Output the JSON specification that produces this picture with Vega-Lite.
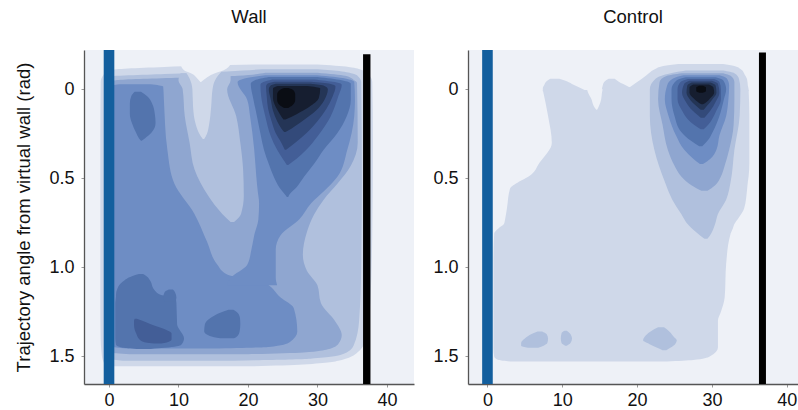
{
  "$schema": "https://vega.github.io/schema/vega-lite/v6.json",
  "padding": {"left": 14, "top": 8, "right": 0, "bottom": 0},
  "background": "white",
  "config": {
    "view": {"fill": "#eef1f7", "stroke": null},
    "font": "Liberation Sans",
    "axis": {
      "grid": false, "domainColor": "#555555", "domainWidth": 1.3,
      "tickColor": "#9a9a9a", "tickSize": 3,
      "labelFont": "Liberation Sans", "labelFontSize": 18, "labelColor": "#111111",
      "titleFont": "Liberation Sans", "titleFontSize": 18.5, "titleFontWeight": "normal", "titleColor": "#111111"
    },
    "title": {"font": "Liberation Sans", "fontSize": 18.5, "fontWeight": "normal", "color": "#111111", "offset": 18}
  },
  "datasets": {
    "wall": [
      {"id": "w1", "lv": 1, "ang": -0.138, "lo": 21, "hi": 30},
      {"id": "w1", "lv": 1, "ang": -0.125, "lo": 8, "hi": 34.5},
      {"id": "w1", "lv": 1, "ang": -0.108, "lo": 0.3, "hi": 36.4},
      {"id": "w1", "lv": 1, "ang": -0.08, "lo": -0.8, "hi": 37.4},
      {"id": "w1", "lv": 1, "ang": -0.04, "lo": -1.2, "hi": 37.9},
      {"id": "w1", "lv": 1, "ang": 0.3, "lo": -1.25, "hi": 38.0},
      {"id": "w1", "lv": 1, "ang": 0.8, "lo": -1.25, "hi": 37.9},
      {"id": "w1", "lv": 1, "ang": 1.2, "lo": -1.25, "hi": 37.6},
      {"id": "w1", "lv": 1, "ang": 1.4, "lo": -1.2, "hi": 37.0},
      {"id": "w1", "lv": 1, "ang": 1.47, "lo": -1.1, "hi": 36.0},
      {"id": "w1", "lv": 1, "ang": 1.52, "lo": -0.9, "hi": 33.5},
      {"id": "w1", "lv": 1, "ang": 1.545, "lo": -0.5, "hi": 28},
      {"id": "w1", "lv": 1, "ang": 1.556, "lo": 1, "hi": 20},

      {"id": "w2", "lv": 2, "ang": -0.112, "lo": 22, "hi": 30},
      {"id": "w2", "lv": 2, "ang": -0.1, "lo": 17, "hi": 33.5},
      {"id": "w2", "lv": 2, "ang": -0.085, "lo": 8, "hi": 35.3},
      {"id": "w2", "lv": 2, "ang": -0.07, "lo": -0.3, "hi": 35.9},
      {"id": "w2", "lv": 2, "ang": -0.04, "lo": -0.6, "hi": 36.3},
      {"id": "w2", "lv": 2, "ang": 0.5, "lo": -0.6, "hi": 36.4},
      {"id": "w2", "lv": 2, "ang": 1.0, "lo": -0.6, "hi": 36.3},
      {"id": "w2", "lv": 2, "ang": 1.3, "lo": -0.6, "hi": 36.0},
      {"id": "w2", "lv": 2, "ang": 1.44, "lo": -0.6, "hi": 35.2},
      {"id": "w2", "lv": 2, "ang": 1.49, "lo": -0.5, "hi": 33.5},
      {"id": "w2", "lv": 2, "ang": 1.513, "lo": 0, "hi": 29},
      {"id": "w2", "lv": 2, "ang": 1.524, "lo": 2, "hi": 18},

      {"id": "w3", "lv": 3, "ang": -0.092, "lo": 22.5, "hi": 30},
      {"id": "w3", "lv": 3, "ang": -0.075, "lo": 18.5, "hi": 34},
      {"id": "w3", "lv": 3, "ang": -0.05, "lo": 1, "hi": 35.3},
      {"id": "w3", "lv": 3, "ang": -0.035, "lo": -0.3, "hi": 35.7},
      {"id": "w3", "lv": 3, "ang": 0.3, "lo": -0.3, "hi": 35.8},
      {"id": "w3", "lv": 3, "ang": 0.43, "lo": -0.3, "hi": 34.8},
      {"id": "w3", "lv": 3, "ang": 0.53, "lo": -0.3, "hi": 32.9},
      {"id": "w3", "lv": 3, "ang": 0.62, "lo": -0.3, "hi": 30.9},
      {"id": "w3", "lv": 3, "ang": 0.705, "lo": -0.3, "hi": 29.5},
      {"id": "w3", "lv": 3, "ang": 0.8, "lo": -0.3, "hi": 28.5},
      {"id": "w3", "lv": 3, "ang": 0.93, "lo": -0.3, "hi": 27.9},
      {"id": "w3", "lv": 3, "ang": 1.02, "lo": -0.3, "hi": 28.5},
      {"id": "w3", "lv": 3, "ang": 1.1, "lo": -0.3, "hi": 30.0},
      {"id": "w3", "lv": 3, "ang": 1.2, "lo": -0.3, "hi": 30.5},
      {"id": "w3", "lv": 3, "ang": 1.3, "lo": -0.3, "hi": 32.5},
      {"id": "w3", "lv": 3, "ang": 1.38, "lo": -0.3, "hi": 33.5},
      {"id": "w3", "lv": 3, "ang": 1.43, "lo": -0.3, "hi": 33.0},
      {"id": "w3", "lv": 3, "ang": 1.46, "lo": -0.3, "hi": 31.5},
      {"id": "w3", "lv": 3, "ang": 1.478, "lo": 0, "hi": 28},
      {"id": "w3", "lv": 3, "ang": 1.488, "lo": 3, "hi": 20},

      {"id": "w2m", "lv": 2, "ang": -0.09, "lo": 10.3, "hi": 17.5},
      {"id": "w2m", "lv": 2, "ang": -0.05, "lo": 10.0, "hi": 17.5},
      {"id": "w2m", "lv": 2, "ang": 0.0, "lo": 10.6, "hi": 17.0},
      {"id": "w2m", "lv": 2, "ang": 0.15, "lo": 10.9, "hi": 18.3},
      {"id": "w2m", "lv": 2, "ang": 0.3, "lo": 11.6, "hi": 18.9},
      {"id": "w2m", "lv": 2, "ang": 0.45, "lo": 12.3, "hi": 19.3},
      {"id": "w2m", "lv": 2, "ang": 0.6, "lo": 14.3, "hi": 19.4},
      {"id": "w2m", "lv": 2, "ang": 0.7, "lo": 16.3, "hi": 19.0},
      {"id": "w2m", "lv": 2, "ang": 0.745, "lo": 17.5, "hi": 18.0},

      {"id": "w1f", "lv": 1, "ang": -0.1, "lo": 11.0, "hi": 16.2},
      {"id": "w1f", "lv": 1, "ang": -0.06, "lo": 11.6, "hi": 15.4},
      {"id": "w1f", "lv": 1, "ang": 0.0, "lo": 12.0, "hi": 14.9},
      {"id": "w1f", "lv": 1, "ang": 0.1, "lo": 12.1, "hi": 14.7},
      {"id": "w1f", "lv": 1, "ang": 0.2, "lo": 12.5, "hi": 14.4},
      {"id": "w1f", "lv": 1, "ang": 0.25, "lo": 13.0, "hi": 14.1},
      {"id": "w1f", "lv": 1, "ang": 0.28, "lo": 13.5, "hi": 13.7},

      {"id": "w0n", "lv": 0, "ang": -0.14, "lo": 10.3, "hi": 17.5},
      {"id": "w0n", "lv": 0, "ang": -0.106, "lo": 10.8, "hi": 16.5},
      {"id": "w0n", "lv": 0, "ang": -0.085, "lo": 12.0, "hi": 15.0},
      {"id": "w0n", "lv": 0, "ang": -0.06, "lo": 12.7, "hi": 13.9},
      {"id": "w0n", "lv": 0, "ang": -0.04, "lo": 13.15, "hi": 13.25},

      {"id": "w4a", "lv": 4, "ang": -0.028, "lo": 1.5, "hi": 6},
      {"id": "w4a", "lv": 4, "ang": -0.015, "lo": 0, "hi": 7.8},
      {"id": "w4a", "lv": 4, "ang": 0.06, "lo": 0, "hi": 7.9},
      {"id": "w4a", "lv": 4, "ang": 0.34, "lo": 0, "hi": 8.4},
      {"id": "w4a", "lv": 4, "ang": 0.53, "lo": 0, "hi": 9.4},
      {"id": "w4a", "lv": 4, "ang": 0.7, "lo": 0, "hi": 12.3},
      {"id": "w4a", "lv": 4, "ang": 0.855, "lo": 0, "hi": 14.1},
      {"id": "w4a", "lv": 4, "ang": 0.985, "lo": 0, "hi": 15.6},
      {"id": "w4a", "lv": 4, "ang": 1.04, "lo": 0, "hi": 17.0},
      {"id": "w4a", "lv": 4, "ang": 1.08, "lo": 0, "hi": 22},
      {"id": "w4a", "lv": 4, "ang": 1.17, "lo": 0, "hi": 24.7},
      {"id": "w4a", "lv": 4, "ang": 1.23, "lo": 0, "hi": 26.6},
      {"id": "w4a", "lv": 4, "ang": 1.36, "lo": 0, "hi": 27.1},
      {"id": "w4a", "lv": 4, "ang": 1.42, "lo": 0, "hi": 26},
      {"id": "w4a", "lv": 4, "ang": 1.447, "lo": 0.5, "hi": 23},
      {"id": "w4a", "lv": 4, "ang": 1.456, "lo": 3, "hi": 15},

      {"id": "w4b", "lv": 4, "ang": -0.078, "lo": 22.5, "hi": 30},
      {"id": "w4b", "lv": 4, "ang": -0.06, "lo": 19.5, "hi": 34},
      {"id": "w4b", "lv": 4, "ang": -0.04, "lo": 18.5, "hi": 35.3},
      {"id": "w4b", "lv": 4, "ang": 0.06, "lo": 19.9, "hi": 35.4},
      {"id": "w4b", "lv": 4, "ang": 0.15, "lo": 20.3, "hi": 35.3},
      {"id": "w4b", "lv": 4, "ang": 0.34, "lo": 20.9, "hi": 34.3},
      {"id": "w4b", "lv": 4, "ang": 0.49, "lo": 21.2, "hi": 32.9},
      {"id": "w4b", "lv": 4, "ang": 0.57, "lo": 21.4, "hi": 31.0},
      {"id": "w4b", "lv": 4, "ang": 0.64, "lo": 21.6, "hi": 29.1},
      {"id": "w4b", "lv": 4, "ang": 0.73, "lo": 21.5, "hi": 27.4},
      {"id": "w4b", "lv": 4, "ang": 0.82, "lo": 20.9, "hi": 24.7},
      {"id": "w4b", "lv": 4, "ang": 0.9, "lo": 20.5, "hi": 24.0},
      {"id": "w4b", "lv": 4, "ang": 0.985, "lo": 19.9, "hi": 24.0},
      {"id": "w4b", "lv": 4, "ang": 1.06, "lo": 17.5, "hi": 24.0},
      {"id": "w4b", "lv": 4, "ang": 1.1, "lo": 17.0, "hi": 24.2},

      {"id": "w5a", "lv": 5, "ang": 0.015, "lo": 3.7, "hi": 4.6},
      {"id": "w5a", "lv": 5, "ang": 0.04, "lo": 3.2, "hi": 5.5},
      {"id": "w5a", "lv": 5, "ang": 0.08, "lo": 3.0, "hi": 6.2},
      {"id": "w5a", "lv": 5, "ang": 0.14, "lo": 3.0, "hi": 6.6},
      {"id": "w5a", "lv": 5, "ang": 0.19, "lo": 3.3, "hi": 6.7},
      {"id": "w5a", "lv": 5, "ang": 0.245, "lo": 3.9, "hi": 6.1},
      {"id": "w5a", "lv": 5, "ang": 0.275, "lo": 4.3, "hi": 5.2},
      {"id": "w5a", "lv": 5, "ang": 0.29, "lo": 4.6, "hi": 4.7},

      {"id": "w5b", "lv": 5, "ang": -0.068, "lo": 23, "hi": 30},
      {"id": "w5b", "lv": 5, "ang": -0.05, "lo": 21, "hi": 33.5},
      {"id": "w5b", "lv": 5, "ang": -0.03, "lo": 20.4, "hi": 34.8},
      {"id": "w5b", "lv": 5, "ang": 0.06, "lo": 20.8, "hi": 34.8},
      {"id": "w5b", "lv": 5, "ang": 0.153, "lo": 21.3, "hi": 34.2},
      {"id": "w5b", "lv": 5, "ang": 0.25, "lo": 21.8, "hi": 32.8},
      {"id": "w5b", "lv": 5, "ang": 0.34, "lo": 22.3, "hi": 30.9},
      {"id": "w5b", "lv": 5, "ang": 0.42, "lo": 23.0, "hi": 29.5},
      {"id": "w5b", "lv": 5, "ang": 0.49, "lo": 23.7, "hi": 28.1},
      {"id": "w5b", "lv": 5, "ang": 0.55, "lo": 24.5, "hi": 27.0},
      {"id": "w5b", "lv": 5, "ang": 0.59, "lo": 25.3, "hi": 26.0},
      {"id": "w5b", "lv": 5, "ang": 0.605, "lo": 25.6, "hi": 25.8},

      {"id": "w5c1", "lv": 5, "ang": 1.038, "lo": 4.3, "hi": 4.9},
      {"id": "w5c1", "lv": 5, "ang": 1.05, "lo": 3.3, "hi": 5.4},
      {"id": "w5c1", "lv": 5, "ang": 1.08, "lo": 2.0, "hi": 6.0},
      {"id": "w5c1", "lv": 5, "ang": 1.12, "lo": 1.2, "hi": 6.4},
      {"id": "w5c1", "lv": 5, "ang": 1.155, "lo": 1.0, "hi": 7.5},
      {"id": "w5c1", "lv": 5, "ang": 1.165, "lo": 1.0, "hi": 9.5},
      {"id": "w5c1", "lv": 5, "ang": 1.2, "lo": 0.9, "hi": 9.7},
      {"id": "w5c1", "lv": 5, "ang": 1.32, "lo": 0.9, "hi": 9.8},
      {"id": "w5c1", "lv": 5, "ang": 1.4, "lo": 0.9, "hi": 10.8},
      {"id": "w5c1", "lv": 5, "ang": 1.435, "lo": 1.0, "hi": 10.4},
      {"id": "w5c1", "lv": 5, "ang": 1.452, "lo": 2.0, "hi": 8.0},
      {"id": "w5c1", "lv": 5, "ang": 1.458, "lo": 4.0, "hi": 6.0},

      {"id": "w5c2", "lv": 5, "ang": 1.125, "lo": 8.6, "hi": 9.2},
      {"id": "w5c2", "lv": 5, "ang": 1.14, "lo": 8.0, "hi": 9.5},
      {"id": "w5c2", "lv": 5, "ang": 1.17, "lo": 7.8, "hi": 9.7},
      {"id": "w5c2", "lv": 5, "ang": 1.19, "lo": 8.0, "hi": 9.6},

      {"id": "w5d", "lv": 5, "ang": 1.238, "lo": 17.2, "hi": 17.9},
      {"id": "w5d", "lv": 5, "ang": 1.255, "lo": 16.0, "hi": 18.5},
      {"id": "w5d", "lv": 5, "ang": 1.285, "lo": 14.6, "hi": 18.85},
      {"id": "w5d", "lv": 5, "ang": 1.32, "lo": 13.8, "hi": 18.9},
      {"id": "w5d", "lv": 5, "ang": 1.36, "lo": 13.7, "hi": 18.8},
      {"id": "w5d", "lv": 5, "ang": 1.385, "lo": 14.5, "hi": 18.5},
      {"id": "w5d", "lv": 5, "ang": 1.398, "lo": 16.0, "hi": 18.0},

      {"id": "w6a", "lv": 6, "ang": 1.289, "lo": 3.7, "hi": 4.0},
      {"id": "w6a", "lv": 6, "ang": 1.3, "lo": 3.6, "hi": 4.8},
      {"id": "w6a", "lv": 6, "ang": 1.322, "lo": 3.6, "hi": 6.2},
      {"id": "w6a", "lv": 6, "ang": 1.35, "lo": 3.7, "hi": 8.2},
      {"id": "w6a", "lv": 6, "ang": 1.37, "lo": 3.9, "hi": 9.0},
      {"id": "w6a", "lv": 6, "ang": 1.405, "lo": 4.4, "hi": 9.0},
      {"id": "w6a", "lv": 6, "ang": 1.422, "lo": 5.3, "hi": 8.3},
      {"id": "w6a", "lv": 6, "ang": 1.428, "lo": 6.5, "hi": 7.5},

      {"id": "w6b", "lv": 6, "ang": -0.055, "lo": 23.5, "hi": 29.5},
      {"id": "w6b", "lv": 6, "ang": -0.04, "lo": 22.2, "hi": 32.5},
      {"id": "w6b", "lv": 6, "ang": -0.025, "lo": 21.8, "hi": 33.5},
      {"id": "w6b", "lv": 6, "ang": 0.04, "lo": 21.9, "hi": 33.0},
      {"id": "w6b", "lv": 6, "ang": 0.153, "lo": 22.5, "hi": 31.9},
      {"id": "w6b", "lv": 6, "ang": 0.265, "lo": 23.3, "hi": 30.0},
      {"id": "w6b", "lv": 6, "ang": 0.34, "lo": 24.2, "hi": 28.4},
      {"id": "w6b", "lv": 6, "ang": 0.39, "lo": 25.0, "hi": 27.0},
      {"id": "w6b", "lv": 6, "ang": 0.425, "lo": 25.6, "hi": 25.8},

      {"id": "w7", "lv": 7, "ang": -0.042, "lo": 23.8, "hi": 29},
      {"id": "w7", "lv": 7, "ang": -0.03, "lo": 22.8, "hi": 31.8},
      {"id": "w7", "lv": 7, "ang": -0.015, "lo": 22.6, "hi": 32.6},
      {"id": "w7", "lv": 7, "ang": 0.04, "lo": 22.7, "hi": 32.2},
      {"id": "w7", "lv": 7, "ang": 0.11, "lo": 22.9, "hi": 31.3},
      {"id": "w7", "lv": 7, "ang": 0.18, "lo": 23.4, "hi": 30.0},
      {"id": "w7", "lv": 7, "ang": 0.247, "lo": 24.0, "hi": 28.4},
      {"id": "w7", "lv": 7, "ang": 0.3, "lo": 24.8, "hi": 26.8},
      {"id": "w7", "lv": 7, "ang": 0.34, "lo": 25.3, "hi": 25.5},

      {"id": "w8", "lv": 8, "ang": -0.03, "lo": 24.0, "hi": 29.0},
      {"id": "w8", "lv": 8, "ang": -0.018, "lo": 23.2, "hi": 31.0},
      {"id": "w8", "lv": 8, "ang": 0.0, "lo": 23.0, "hi": 31.5},
      {"id": "w8", "lv": 8, "ang": 0.06, "lo": 23.3, "hi": 31.0},
      {"id": "w8", "lv": 8, "ang": 0.12, "lo": 23.6, "hi": 29.8},
      {"id": "w8", "lv": 8, "ang": 0.18, "lo": 24.2, "hi": 27.8},
      {"id": "w8", "lv": 8, "ang": 0.22, "lo": 24.8, "hi": 26.3},
      {"id": "w8", "lv": 8, "ang": 0.24, "lo": 25.2, "hi": 25.4},

      {"id": "w9", "lv": 9, "ang": -0.018, "lo": 24.3, "hi": 28.5},
      {"id": "w9", "lv": 9, "ang": -0.005, "lo": 23.6, "hi": 30.4},
      {"id": "w9", "lv": 9, "ang": 0.05, "lo": 23.6, "hi": 30.2},
      {"id": "w9", "lv": 9, "ang": 0.1, "lo": 24.0, "hi": 28.8},
      {"id": "w9", "lv": 9, "ang": 0.14, "lo": 24.6, "hi": 27.0},
      {"id": "w9", "lv": 9, "ang": 0.17, "lo": 25.1, "hi": 25.4},

      {"id": "w10", "lv": 10, "ang": -0.006, "lo": 25.2, "hi": 25.8},
      {"id": "w10", "lv": 10, "ang": 0.005, "lo": 24.6, "hi": 26.5},
      {"id": "w10", "lv": 10, "ang": 0.03, "lo": 24.2, "hi": 26.8},
      {"id": "w10", "lv": 10, "ang": 0.06, "lo": 24.2, "hi": 26.8},
      {"id": "w10", "lv": 10, "ang": 0.09, "lo": 24.6, "hi": 26.4},
      {"id": "w10", "lv": 10, "ang": 0.105, "lo": 25.2, "hi": 25.8}
    ],
    "control": [
      {"id": "c1a", "lv": 1, "ang": 0.005, "lo": 7.4, "hi": 34.9},
      {"id": "c1a", "lv": 1, "ang": 0.15, "lo": 8.1, "hi": 35.0},
      {"id": "c1a", "lv": 1, "ang": 0.3, "lo": 8.6, "hi": 35.0},
      {"id": "c1a", "lv": 1, "ang": 0.41, "lo": 7.0, "hi": 35.0},
      {"id": "c1a", "lv": 1, "ang": 0.49, "lo": 5.5, "hi": 34.9},
      {"id": "c1a", "lv": 1, "ang": 0.52, "lo": 4.2, "hi": 34.8},
      {"id": "c1a", "lv": 1, "ang": 0.56, "lo": 3.0, "hi": 34.7},
      {"id": "c1a", "lv": 1, "ang": 0.67, "lo": 2.6, "hi": 34.3},
      {"id": "c1a", "lv": 1, "ang": 0.72, "lo": 2.4, "hi": 33.6},
      {"id": "c1a", "lv": 1, "ang": 0.757, "lo": 2.2, "hi": 33.0},
      {"id": "c1a", "lv": 1, "ang": 0.78, "lo": 1.5, "hi": 32.8},
      {"id": "c1a", "lv": 1, "ang": 0.81, "lo": 0.9, "hi": 32.5},
      {"id": "c1a", "lv": 1, "ang": 0.98, "lo": 0.8, "hi": 31.9},
      {"id": "c1a", "lv": 1, "ang": 1.17, "lo": 0.8, "hi": 31.7},
      {"id": "c1a", "lv": 1, "ang": 1.25, "lo": 0.8, "hi": 31.2},
      {"id": "c1a", "lv": 1, "ang": 1.3, "lo": 0.8, "hi": 30.8},
      {"id": "c1a", "lv": 1, "ang": 1.45, "lo": 0.8, "hi": 30.8},
      {"id": "c1a", "lv": 1, "ang": 1.5, "lo": 0.9, "hi": 29.7},
      {"id": "c1a", "lv": 1, "ang": 1.52, "lo": 1.5, "hi": 27.5},
      {"id": "c1a", "lv": 1, "ang": 1.528, "lo": 3.0, "hi": 24.0},

      {"id": "c1b", "lv": 1, "ang": -0.058, "lo": 8.4, "hi": 9.6},
      {"id": "c1b", "lv": 1, "ang": -0.045, "lo": 7.9, "hi": 10.6},
      {"id": "c1b", "lv": 1, "ang": -0.025, "lo": 7.6, "hi": 11.5},
      {"id": "c1b", "lv": 1, "ang": -0.005, "lo": 7.4, "hi": 12.5},
      {"id": "c1b", "lv": 1, "ang": 0.012, "lo": 7.4, "hi": 13.3},

      {"id": "c1c", "lv": 1, "ang": -0.058, "lo": 16.2, "hi": 17.0},
      {"id": "c1c", "lv": 1, "ang": -0.04, "lo": 15.6, "hi": 17.6},
      {"id": "c1c", "lv": 1, "ang": -0.02, "lo": 15.4, "hi": 18.6},
      {"id": "c1c", "lv": 1, "ang": 0.0, "lo": 15.3, "hi": 19.5},
      {"id": "c1c", "lv": 1, "ang": 0.012, "lo": 15.3, "hi": 19.8},

      {"id": "c1d", "lv": 1, "ang": -0.142, "lo": 25.5, "hi": 31.5},
      {"id": "c1d", "lv": 1, "ang": -0.13, "lo": 23.5, "hi": 33.0},
      {"id": "c1d", "lv": 1, "ang": -0.11, "lo": 22.3, "hi": 33.9},
      {"id": "c1d", "lv": 1, "ang": -0.08, "lo": 21.3, "hi": 34.4},
      {"id": "c1d", "lv": 1, "ang": -0.055, "lo": 20.5, "hi": 34.7},
      {"id": "c1d", "lv": 1, "ang": -0.02, "lo": 19.3, "hi": 34.8},
      {"id": "c1d", "lv": 1, "ang": 0.0, "lo": 18.6, "hi": 34.9},
      {"id": "c1d", "lv": 1, "ang": 0.012, "lo": 18.2, "hi": 34.9},

      {"id": "c0n", "lv": 0, "ang": 0.0, "lo": 13.3, "hi": 15.4},
      {"id": "c0n", "lv": 0, "ang": 0.02, "lo": 13.45, "hi": 15.3},
      {"id": "c0n", "lv": 0, "ang": 0.056, "lo": 13.9, "hi": 15.2},
      {"id": "c0n", "lv": 0, "ang": 0.094, "lo": 14.2, "hi": 14.9},
      {"id": "c0n", "lv": 0, "ang": 0.116, "lo": 14.55, "hi": 14.65},

      {"id": "c2", "lv": 2, "ang": -0.105, "lo": 26.5, "hi": 31.5},
      {"id": "c2", "lv": 2, "ang": -0.09, "lo": 24.5, "hi": 33.0},
      {"id": "c2", "lv": 2, "ang": -0.06, "lo": 22.5, "hi": 33.6},
      {"id": "c2", "lv": 2, "ang": 0.0, "lo": 21.7, "hi": 33.8},
      {"id": "c2", "lv": 2, "ang": 0.15, "lo": 21.7, "hi": 33.7},
      {"id": "c2", "lv": 2, "ang": 0.34, "lo": 22.3, "hi": 33.0},
      {"id": "c2", "lv": 2, "ang": 0.52, "lo": 23.7, "hi": 32.5},
      {"id": "c2", "lv": 2, "ang": 0.62, "lo": 24.7, "hi": 31.9},
      {"id": "c2", "lv": 2, "ang": 0.7, "lo": 25.9, "hi": 30.8},
      {"id": "c2", "lv": 2, "ang": 0.76, "lo": 26.8, "hi": 30.4},
      {"id": "c2", "lv": 2, "ang": 0.81, "lo": 28.1, "hi": 29.9},
      {"id": "c2", "lv": 2, "ang": 0.84, "lo": 29.0, "hi": 29.4},

      {"id": "c2a", "lv": 2, "ang": 1.36, "lo": 6.7, "hi": 7.3},
      {"id": "c2a", "lv": 2, "ang": 1.375, "lo": 5.9, "hi": 7.9},
      {"id": "c2a", "lv": 2, "ang": 1.4, "lo": 5.0, "hi": 8.1},
      {"id": "c2a", "lv": 2, "ang": 1.425, "lo": 4.5, "hi": 8.0},
      {"id": "c2a", "lv": 2, "ang": 1.44, "lo": 4.5, "hi": 7.5},
      {"id": "c2a", "lv": 2, "ang": 1.452, "lo": 5.4, "hi": 6.8},

      {"id": "c2b", "lv": 2, "ang": 1.356, "lo": 10.3, "hi": 10.6},
      {"id": "c2b", "lv": 2, "ang": 1.37, "lo": 9.9, "hi": 11.0},
      {"id": "c2b", "lv": 2, "ang": 1.4, "lo": 9.8, "hi": 11.3},
      {"id": "c2b", "lv": 2, "ang": 1.425, "lo": 9.9, "hi": 11.1},
      {"id": "c2b", "lv": 2, "ang": 1.44, "lo": 10.4, "hi": 10.6},

      {"id": "c2c", "lv": 2, "ang": 1.337, "lo": 22.8, "hi": 23.6},
      {"id": "c2c", "lv": 2, "ang": 1.36, "lo": 21.8, "hi": 24.3},
      {"id": "c2c", "lv": 2, "ang": 1.39, "lo": 21.0, "hi": 24.9},
      {"id": "c2c", "lv": 2, "ang": 1.41, "lo": 20.8, "hi": 25.3},
      {"id": "c2c", "lv": 2, "ang": 1.43, "lo": 21.6, "hi": 25.1},
      {"id": "c2c", "lv": 2, "ang": 1.45, "lo": 22.6, "hi": 24.5},
      {"id": "c2c", "lv": 2, "ang": 1.465, "lo": 23.4, "hi": 23.9},

      {"id": "c3", "lv": 3, "ang": -0.09, "lo": 26.0, "hi": 31.5},
      {"id": "c3", "lv": 3, "ang": -0.075, "lo": 24.0, "hi": 32.5},
      {"id": "c3", "lv": 3, "ang": -0.04, "lo": 23.0, "hi": 33.0},
      {"id": "c3", "lv": 3, "ang": 0.056, "lo": 22.8, "hi": 33.0},
      {"id": "c3", "lv": 3, "ang": 0.2, "lo": 23.4, "hi": 32.9},
      {"id": "c3", "lv": 3, "ang": 0.34, "lo": 24.1, "hi": 32.3},
      {"id": "c3", "lv": 3, "ang": 0.43, "lo": 25.0, "hi": 31.7},
      {"id": "c3", "lv": 3, "ang": 0.49, "lo": 25.9, "hi": 31.2},
      {"id": "c3", "lv": 3, "ang": 0.54, "lo": 27.3, "hi": 30.4},
      {"id": "c3", "lv": 3, "ang": 0.57, "lo": 28.6, "hi": 29.4},

      {"id": "c4", "lv": 4, "ang": -0.078, "lo": 26.2, "hi": 31.0},
      {"id": "c4", "lv": 4, "ang": -0.06, "lo": 24.8, "hi": 32.0},
      {"id": "c4", "lv": 4, "ang": -0.02, "lo": 24.0, "hi": 32.3},
      {"id": "c4", "lv": 4, "ang": 0.056, "lo": 23.7, "hi": 32.2},
      {"id": "c4", "lv": 4, "ang": 0.15, "lo": 24.2, "hi": 31.9},
      {"id": "c4", "lv": 4, "ang": 0.26, "lo": 25.2, "hi": 31.0},
      {"id": "c4", "lv": 4, "ang": 0.34, "lo": 26.3, "hi": 30.6},
      {"id": "c4", "lv": 4, "ang": 0.39, "lo": 27.5, "hi": 29.8},
      {"id": "c4", "lv": 4, "ang": 0.42, "lo": 28.4, "hi": 28.8},

      {"id": "c5", "lv": 5, "ang": -0.067, "lo": 26.5, "hi": 30.5},
      {"id": "c5", "lv": 5, "ang": -0.05, "lo": 25.3, "hi": 31.5},
      {"id": "c5", "lv": 5, "ang": 0.0, "lo": 24.6, "hi": 31.9},
      {"id": "c5", "lv": 5, "ang": 0.056, "lo": 24.6, "hi": 31.6},
      {"id": "c5", "lv": 5, "ang": 0.15, "lo": 25.0, "hi": 31.0},
      {"id": "c5", "lv": 5, "ang": 0.24, "lo": 25.9, "hi": 30.1},
      {"id": "c5", "lv": 5, "ang": 0.29, "lo": 27.2, "hi": 29.4},
      {"id": "c5", "lv": 5, "ang": 0.32, "lo": 28.3, "hi": 28.7},

      {"id": "c6", "lv": 6, "ang": -0.057, "lo": 26.8, "hi": 30.3},
      {"id": "c6", "lv": 6, "ang": -0.04, "lo": 25.8, "hi": 31.0},
      {"id": "c6", "lv": 6, "ang": 0.0, "lo": 25.4, "hi": 31.2},
      {"id": "c6", "lv": 6, "ang": 0.056, "lo": 25.4, "hi": 31.2},
      {"id": "c6", "lv": 6, "ang": 0.12, "lo": 26.0, "hi": 30.6},
      {"id": "c6", "lv": 6, "ang": 0.17, "lo": 26.8, "hi": 30.0},
      {"id": "c6", "lv": 6, "ang": 0.2, "lo": 27.6, "hi": 29.5},
      {"id": "c6", "lv": 6, "ang": 0.225, "lo": 28.5, "hi": 28.9},

      {"id": "c7", "lv": 7, "ang": -0.047, "lo": 27.0, "hi": 30.0},
      {"id": "c7", "lv": 7, "ang": -0.03, "lo": 26.3, "hi": 30.8},
      {"id": "c7", "lv": 7, "ang": 0.02, "lo": 26.0, "hi": 31.0},
      {"id": "c7", "lv": 7, "ang": 0.07, "lo": 26.5, "hi": 30.5},
      {"id": "c7", "lv": 7, "ang": 0.12, "lo": 27.4, "hi": 29.8},
      {"id": "c7", "lv": 7, "ang": 0.16, "lo": 28.5, "hi": 29.0},

      {"id": "c8", "lv": 8, "ang": -0.037, "lo": 27.3, "hi": 29.8},
      {"id": "c8", "lv": 8, "ang": -0.02, "lo": 26.7, "hi": 30.5},
      {"id": "c8", "lv": 8, "ang": 0.02, "lo": 26.6, "hi": 30.6},
      {"id": "c8", "lv": 8, "ang": 0.06, "lo": 27.1, "hi": 30.0},
      {"id": "c8", "lv": 8, "ang": 0.09, "lo": 27.8, "hi": 29.4},
      {"id": "c8", "lv": 8, "ang": 0.115, "lo": 28.5, "hi": 28.9},

      {"id": "c9", "lv": 9, "ang": -0.027, "lo": 27.5, "hi": 29.6},
      {"id": "c9", "lv": 9, "ang": -0.01, "lo": 27.0, "hi": 30.2},
      {"id": "c9", "lv": 9, "ang": 0.02, "lo": 27.0, "hi": 30.3},
      {"id": "c9", "lv": 9, "ang": 0.05, "lo": 27.5, "hi": 29.8},
      {"id": "c9", "lv": 9, "ang": 0.075, "lo": 28.2, "hi": 29.2},
      {"id": "c9", "lv": 9, "ang": 0.085, "lo": 28.6, "hi": 28.8},

      {"id": "c10", "lv": 10, "ang": -0.02, "lo": 28.3, "hi": 28.8},
      {"id": "c10", "lv": 10, "ang": -0.01, "lo": 27.9, "hi": 29.2},
      {"id": "c10", "lv": 10, "ang": 0.01, "lo": 27.9, "hi": 29.2},
      {"id": "c10", "lv": 10, "ang": 0.02, "lo": 28.3, "hi": 28.8}
    ],
    "walls": [
      {"panel": "Wall", "kind": "virtual", "lo": 0, "ang": -0.22, "end": 1.655},
      {"panel": "Wall", "kind": "end", "lo": 37.1, "ang": -0.196, "end": 1.655},
      {"panel": "Control", "kind": "virtual", "lo": 0, "ang": -0.22, "end": 1.655},
      {"panel": "Control", "kind": "end", "lo": 36.75, "ang": -0.206, "end": 1.655}
    ]
  },
  "hconcat": [
    {
      "width": 330,
      "height": 334,
      "title": {"text": "Wall"},
      "encoding": {
        "y": {"field": "ang", "type": "quantitative",
              "scale": {"domain": [-0.22, 1.655], "reverse": true, "nice": false, "zero": false},
              "axis": {"values": [0, 0.5, 1, 1.5], "labelExpr": "datum.value === 0 ? '0' : format(datum.value, '.1f')",
                       "labelPadding": 7, "title": "Trajectory angle from virtual wall (rad)", "titlePadding": 15}},
        "x": {"field": "lo", "type": "quantitative",
              "scale": {"domain": [-3.6, 43.9], "nice": false, "zero": false},
              "axis": {"values": [0, 10, 20, 30, 40], "format": "d", "labelPadding": 4, "title": null}}
      },
      "layer": [
        {
          "data": {"name": "wall"},
          "mark": {"type": "area", "orient": "horizontal", "interpolate": "monotone", "opacity": 1, "clip": true},
          "encoding": {
            "x2": {"field": "hi"},
            "color": {"field": "lv", "type": "ordinal", "legend": null,
                      "scale": {"domain": [0, 1, 2, 3, 4, 5, 6, 7, 8, 9, 10],
                                "range": ["#eef1f7", "#cfd8e9", "#b0c0dd", "#8fa6d0", "#6e8dc4", "#5374ad", "#435e97", "#334a7a", "#243556", "#161e30", "#0a0d14"]}},
            "detail": {"field": "id"}
          }
        },
        {
          "data": {"name": "walls"},
          "transform": [{"filter": "datum.panel === 'Wall' && datum.kind === 'virtual'"}],
          "mark": {"type": "rule", "color": "#135f9e", "strokeWidth": 10.6},
          "encoding": {"y2": {"field": "end"}}
        },
        {
          "data": {"name": "walls"},
          "transform": [{"filter": "datum.panel === 'Wall' && datum.kind === 'end'"}],
          "mark": {"type": "rule", "color": "#000000", "strokeWidth": 7.4},
          "encoding": {"y2": {"field": "end"}}
        }
      ]
    },
    {
      "width": 330,
      "height": 334,
      "title": {"text": "Control"},
      "encoding": {
        "y": {"field": "ang", "type": "quantitative",
              "scale": {"domain": [-0.22, 1.655], "reverse": true, "nice": false, "zero": false},
              "axis": {"values": [0, 0.5, 1, 1.5], "labelExpr": "datum.value === 0 ? '0' : format(datum.value, '.1f')",
                       "labelPadding": 7, "title": null}},
        "x": {"field": "lo", "type": "quantitative",
              "scale": {"domain": [-2.6, 41.5], "nice": false, "zero": false},
              "axis": {"values": [0, 10, 20, 30, 40], "format": "d", "labelPadding": 4, "title": null}}
      },
      "layer": [
        {
          "data": {"name": "control"},
          "mark": {"type": "area", "orient": "horizontal", "interpolate": "monotone", "opacity": 1, "clip": true},
          "encoding": {
            "x2": {"field": "hi"},
            "color": {"field": "lv", "type": "ordinal", "legend": null,
                      "scale": {"domain": [0, 1, 2, 3, 4, 5, 6, 7, 8, 9, 10],
                                "range": ["#eef1f7", "#cbd5e7", "#a8badb", "#88a0cf", "#6685c0", "#4e6ca8", "#3c5588", "#2c3e63", "#1c2538", "#111622", "#05070a"]}},
            "detail": {"field": "id"}
          }
        },
        {
          "data": {"name": "walls"},
          "transform": [{"filter": "datum.panel === 'Control' && datum.kind === 'virtual'"}],
          "mark": {"type": "rule", "color": "#135f9e", "strokeWidth": 10.6},
          "encoding": {"y2": {"field": "end"}}
        },
        {
          "data": {"name": "walls"},
          "transform": [{"filter": "datum.panel === 'Control' && datum.kind === 'end'"}],
          "mark": {"type": "rule", "color": "#000000", "strokeWidth": 7.0},
          "encoding": {"y2": {"field": "end"}}
        }
      ]
    }
  ],
  "spacing": 18
}
